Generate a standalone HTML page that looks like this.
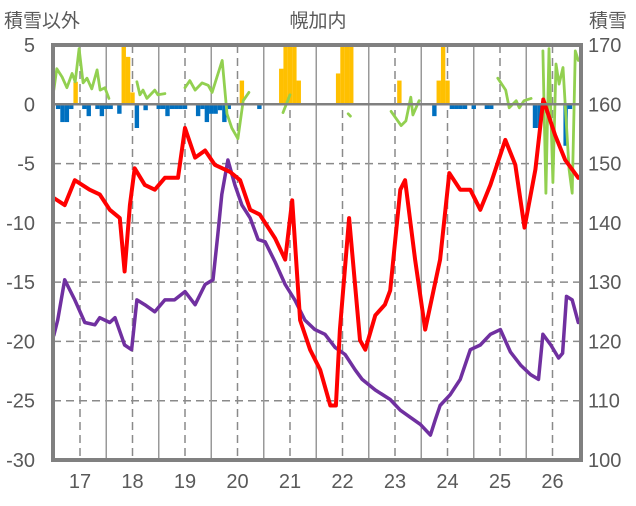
<!DOCTYPE html>
<html><head><meta charset="utf-8"><style>
body{margin:0;background:#fff}
svg text{font-family:"Liberation Sans","Noto Sans CJK JP",sans-serif;fill:#595959}
</style></head><body>
<svg id="chart" width="636" height="501" xmlns="http://www.w3.org/2000/svg"></svg>
<script>
const yearLabels=["17","18","19","20","21","22","23","24","25","26"];
const leftTicks=[5,0,-5,-10,-15,-20,-25,-30];
const rightTicks=[170,160,150,140,130,120,110,100];
const redMonths=[0,2.5,4.8,8.2,10.5,12.8,15.1,16.2,17.4,18.5,20.8,23.1,25.4,28.4,30,32.3,34.6,36.8,40.3,42.6,44.9,47.1,50.6,52.9,54.5,56.3,58.6,60.9,63.2,64.5,65.4,67.5,70,71.2,73.5,75.7,76.9,79.2,80.3,82.6,84.9,88.3,90.4,92.9,95.2,97.5,99.8,103.2,105.5,107.6,110.1,111.9,114.6,116.9,119.9];
const redValues=[-7.9,-8.5,-6.4,-7.2,-7.6,-8.9,-9.6,-14.1,-8.5,-5.4,-6.8,-7.2,-6.2,-6.2,-2.0,-4.5,-3.9,-5.1,-5.7,-6.4,-8.9,-9.3,-11.3,-13.1,-8.1,-18.2,-20.7,-22.4,-25.4,-25.4,-19,-9.6,-19.9,-20.7,-17.8,-16.9,-15.7,-7.2,-6.4,-13.1,-19,-13.1,-5.8,-7.2,-7.2,-8.9,-6.8,-3.0,-5.1,-10.4,-5.5,0.4,-2.6,-4.7,-6.2];
const purpleMonths=[0,0.9,2.5,4.8,7.1,9.4,10.5,12.8,14,16.2,17.8,19,20.8,23.1,25.4,27.6,30,32.3,34.6,36.4,37.5,38.4,39.8,41.4,43,44.9,46.7,48.3,50.6,52.9,55.1,57.4,59.7,62,64.3,66.6,68.9,70.5,73.5,76.9,79.2,81.5,83.8,86.1,87.2,88.3,90.6,92.9,95.2,97.5,99.8,102.1,104.4,106.7,109,110.8,111.8,113.6,115.4,116.3,117.2,118.5,119.9];
const purpleValues=[-19.5,-18.2,-14.8,-16.5,-18.4,-18.6,-18,-18.4,-18,-20.3,-20.7,-16.5,-16.9,-17.5,-16.5,-16.5,-15.8,-16.9,-15.2,-14.8,-11,-7.6,-4.7,-6.8,-8.5,-9.6,-11.4,-11.6,-13.3,-15.2,-16.5,-18.2,-19,-19.4,-20.5,-21.1,-22.4,-23.2,-24.1,-24.9,-25.8,-26.4,-27,-27.9,-26.6,-25.4,-24.5,-23.2,-20.7,-20.3,-19.4,-19,-20.9,-22,-22.8,-23.2,-19.4,-20.3,-21.4,-21,-16.2,-16.5,-18.4];
const greenMonths=[0,0.7,1.9,3.0,4.2,4.9,5.8,6.7,7.6,8.7,9.9,10.6,11.7,12.6,null,19,19.7,20.4,21.3,23.1,23.8,25.4,null,30,31.1,32.3,33.9,35.3,36.2,38.5,39.6,40.7,42.1,43.3,44.6,null,52.4,54,null,67.3,67.8,null,77.1,79.4,80.5,81.6,82.1,83.5,null,101.5,103.3,104.1,105.7,106.4,107.5,109.1,null,111.8,112.5,113.2,114.1,114.8,115.5,116.4,117.8,118.5,119.2,119.9];
const greenValues=[1.2,3.0,2.3,1.4,2.6,1.9,4.7,1.8,2.2,1.3,2.9,1.2,1.4,0.5,null,1.9,0.8,1.2,0.5,1.2,0.8,0.9,null,1.4,2.0,1.2,1.8,1.6,1.0,3.7,-0.8,-2.0,-2.9,0.3,1.0,null,-0.7,0.8,null,-0.8,-1.0,null,-0.6,-1.8,-1.4,0.6,-0.9,0.3,null,2.2,1.2,-0.3,0.3,-0.3,0.3,0.5,null,4.5,-7.5,4.7,-6.6,3.4,1.7,3.1,-5.5,-7.5,4.5,3.7];
const barMonths=[1,2,3,4,5,7,8,10,11,12,13,15,16,17,18,19,21,24,25,26,27,28,29,30,33,34,35,36,37,38,39,40,43,47,52,53,54,55,56,65,66,67,68,79,87,88,89,90,91,92,93,94,96,99,100,110,111,112,117,118];
const barValues=[-0.4,-1.5,-1.5,-0.4,1.9,-0.4,-1.0,-0.4,-1.0,-0.4,-0.4,-0.8,5,4,1,-2.0,-0.5,-0.4,-0.4,-1.0,-0.4,-0.4,-0.4,-0.4,-1.0,-0.4,-1.5,-0.8,-0.8,-0.5,-1.5,-0.4,2,-0.4,3,5,5,5,2,2.6,5,5,5,2,-1.0,2,5,2,-0.4,-0.4,-0.4,-0.4,-0.4,-0.4,-0.4,-2.0,-2.0,-0.4,-3.5,-0.4];

const L=53,R=581,T=45,B=460;
const X=m=>53.75+4.375*m;
const Y=v=>T+(5-v)*(B-T)/35;
const YR=v=>T+(170-v)*(B-T)/70;
const svg=document.getElementById('chart');
const NS='http://www.w3.org/2000/svg';
function mk(tag,attrs,parent){const e=document.createElementNS(NS,tag);for(const k in attrs)e.setAttribute(k,attrs[k]);(parent||svg).appendChild(e);return e;}

// horizontal grid
leftTicks.forEach(v=>{if(v===5||v===-30||v===0)return;
const g=mk('line',{x1:L,x2:R,y1:Y(v),y2:Y(v),stroke:'#8a8a8a','stroke-width':1.5,'stroke-dasharray':'8,5'});

});
// vertical grid
yearLabels.forEach((lab,i)=>{
const mj=6+12*i;
const d=mk('line',{x1:X(mj),x2:X(mj),y1:T,y2:B,stroke:'#8a8a8a','stroke-width':1.5,'stroke-dasharray':'8,5'});


if(i<9){const s=mk('line',{x1:X(mj+6),x2:X(mj+6),y1:T,y2:B,stroke:'#999','stroke-width':1.5});

}
const t=mk('text',{x:X(mj),y:488,'font-size':20,'text-anchor':'middle'});t.textContent=lab;


});
// bars
barMonths.forEach((m,i)=>{const v=barValues[i];
const y0=Y(0),y1=Y(v);
const b=mk('rect',{x:X(m)-2.2,width:4.4,y:Math.min(y0,y1),height:Math.abs(y1-y0),fill:v>0?'#FFC000':'#0070C0'});

});
// lines
function line(ms,vs,color,w,name){let d='',pen=false;
ms.forEach((m,i)=>{if(m===null||vs[i]===null){pen=false;return;}
d+=(pen?'L':'M')+X(m).toFixed(1)+','+Y(vs[i]).toFixed(1);pen=true;});
const p=mk('path',{d:d,fill:'none',stroke:color,'stroke-width':w,'stroke-linejoin':'round','stroke-linecap':'round'});

}
line(greenMonths,greenValues,'#92D050',2.8,'green-series-line');
line(purpleMonths,purpleValues,'#7030A0',3.5,'purple-series-line');
line(redMonths,redValues,'#FF0000',4,'red-series-line');
// zero line and frame
const z=mk('line',{x1:L,x2:R,y1:Y(0),y2:Y(0),stroke:'#808080','stroke-width':2.5});


const f=mk('rect',{x:L,y:T,width:R-L,height:B-T,fill:'none',stroke:'#808080','stroke-width':4});


// tick labels
leftTicks.forEach(v=>{const t=mk('text',{x:35,y:Y(v)+7,'font-size':20,'text-anchor':'end'});t.textContent=v;

});
rightTicks.forEach(v=>{const t=mk('text',{x:588,y:YR(v)+7,'font-size':20});t.textContent=v;

});
// titles
const t1=mk('text',{x:4,y:27,'font-size':19});t1.textContent='積雪以外';


const t2=mk('text',{x:318,y:27,'font-size':19,'text-anchor':'middle'});t2.textContent='幌加内';


const t3=mk('text',{x:589,y:27,'font-size':19});t3.textContent='積雪';


</script>
</body></html>
